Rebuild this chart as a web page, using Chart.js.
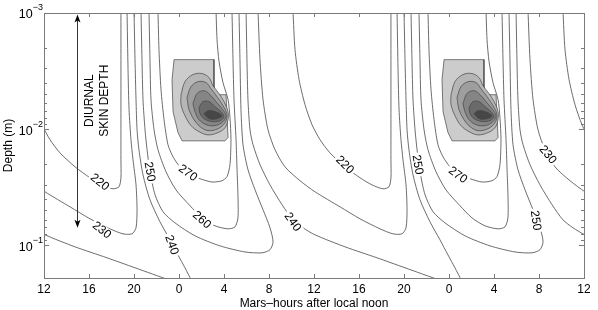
<!DOCTYPE html>
<html>
<head>
<meta charset="utf-8">
<script src="https://cdn.jsdelivr.net/npm/chart.js@4.4.1/dist/chart.umd.min.js"></script>
<style>
  html, body { margin: 0; padding: 0; background: #fff; }
  #wrap { width: 598px; height: 310px; }
</style>
</head>
<body>
<div id="wrap"><canvas id="myChart" width="598" height="310"></canvas></div>
<script>
// x = Mars-hours after local noon (one day runs -12 .. 36), y = depth in metres
const HOUR_TICKS = [-12, -8, -4, 0, 4, 8, 12, 16, 20, 24, 28, 32, 36];
const DEPTH_LABELS = [0.001, 0.01, 0.1];
const DEPTH_MIN = 0.001;
const DEPTH_MAX = 0.191;

// isotherms (K) for one day, [hour, depth]; the field repeats every 24 h
const iso270 = [[-1.87,0.00095],[-1.78,0.00206],[-1.6,0.00456],[-1.33,0.00828],[-0.98,0.0136],[-0.53,0.0173],[0.09,0.0211],[0.98,0.0247],[1.87,0.0267],[2.93,0.0285],[3.82,0.0278],[4.27,0.0256],[4.53,0.0202],[4.62,0.0123],[4.53,0.00796],[4.36,0.00557],[3.91,0.00397],[3.56,0.00262],[3.38,0.00169],[3.29,0.00095]];
const iso260 = [[-2.67,0.00095],[-2.58,0.00252],[-2.49,0.00557],[-2.22,0.0101],[-1.87,0.015],[-1.16,0.0232],[-0.27,0.0333],[0.98,0.0456],[2.04,0.058],[3.2,0.0679],[4.36,0.0721],[4.98,0.0693],[5.24,0.058],[5.24,0.0367],[5.16,0.0223],[5.07,0.0123],[4.89,0.00557],[4.8,0.00252],[4.71,0.00095]];
const iso250 = [[-3.38,0.00095],[-3.29,0.00252],[-3.2,0.00557],[-3.02,0.0101],[-2.84,0.015],[-2.58,0.0232],[-2.13,0.0367],[-1.42,0.0514],[-0.36,0.064],[1.42,0.0828],[3.64,0.101],[5.87,0.114],[7.38,0.116],[8.09,0.109],[8.36,0.0933],[8.09,0.0706],[7.47,0.0494],[6.76,0.0333],[6.13,0.0223],[5.69,0.0136],[5.51,0.00679],[5.42,0.00252],[5.33,0.00095]];
const iso240rise = [[-4.0,0.00095],[-3.91,0.00252],[-3.82,0.00557],[-3.73,0.0101],[-3.56,0.015],[-3.2,0.0247],[-2.58,0.0405],[-1.69,0.0627],[-0.8,0.0897],[-0.09,0.121],[0.53,0.156],[1.1,0.2]];
const iso240fall = [[5.96,0.00095],[6.04,0.00252],[6.13,0.00557],[6.31,0.0101],[6.58,0.0136],[7.2,0.0202],[8.09,0.0302],[9.16,0.0447],[10.13,0.0603],[11.02,0.0706],[12.09,0.0812],[14.76,0.103],[17.6,0.128],[20.09,0.156],[23.2,0.2]];
const iso230 = [[7.02,0.00095],[7.2,0.00252],[7.47,0.00557],[7.91,0.0101],[8.53,0.015],[9.42,0.0211],[10.76,0.0278],[12.09,0.0346],[14.31,0.0466],[16.09,0.0591],[17.87,0.0721],[19.02,0.0796],[19.82,0.0796],[20.18,0.0706],[20.27,0.0494],[20.18,0.0302],[19.91,0.0183],[19.73,0.0123],[19.56,0.00679],[19.47,0.00307],[19.38,0.00095]];
const iso220 = [[10.13,0.00095],[10.31,0.00206],[10.67,0.00374],[11.2,0.00615],[11.82,0.00914],[12.53,0.0123],[13.42,0.016],[14.76,0.0211],[16.09,0.0262],[17.16,0.0302],[18.13,0.0326],[18.67,0.0313],[18.84,0.0262],[18.84,0.0183],[18.84,0.00828],[18.84,0.00252],[18.84,0.00095]];

// shaded patch just after noon, outer polygon first then the nested rings
const blobOuter = [[-0.44,0.00252],[3.11,0.00252],[3.11,0.00505],[4.18,0.00505],[4.36,0.0118],[4.09,0.0126],[0.27,0.0126],[-0.09,0.0107],[-0.53,0.00706],[-0.62,0.00374]];
const blobRing1 = [[0.18,0.00505],[0.53,0.0039],[1.24,0.00339],[2.04,0.00332],[2.67,0.0036],[3.02,0.00422],[3.56,0.00494],[4.0,0.00579],[4.36,0.00706],[4.36,0.00828],[4.09,0.00971],[3.47,0.0107],[2.58,0.0112],[1.78,0.0105],[1.07,0.00933],[0.53,0.00765],[0.18,0.00615]];
const blobRing2 = [[0.71,0.00535],[1.07,0.0043],[1.69,0.0039],[2.4,0.00397],[2.84,0.00448],[3.38,0.00525],[3.91,0.00627],[4.27,0.0075],[4.09,0.00879],[3.47,0.0099],[2.58,0.0103],[1.87,0.00951],[1.33,0.00828],[0.89,0.00679]];
const blobRing3 = [[1.24,0.00603],[1.6,0.00494],[2.22,0.00466],[2.76,0.00505],[3.29,0.00579],[3.82,0.00666],[4.18,0.00765],[3.91,0.00861],[3.2,0.00933],[2.4,0.00914],[1.78,0.00828],[1.42,0.00706]];
const blobRing4 = [[1.78,0.00653],[2.13,0.00579],[2.67,0.00579],[3.2,0.0064],[3.73,0.00706],[4.0,0.0078],[3.64,0.00845],[2.93,0.00861],[2.22,0.00812],[1.87,0.00735]];
const blobRing5 = [[2.22,0.00735],[2.58,0.00693],[3.2,0.00706],[3.82,0.00765],[3.38,0.00812],[2.67,0.00812]];

// contour label text and where it sits: [text, hour, depth, angle]
const CONTOUR_LABELS = [
    ['220', -7.02, 0.0285, 38],
    ['230', -6.84, 0.0735, 38],
    ['250', -2.58, 0.0232, 80],
    ['270', 0.8, 0.0237, 36],
    ['260', 2.04, 0.0600, 42],
    ['240', -0.62, 0.0991, 70],
    ['240', 10.13, 0.0627, 55],
    ['220', 14.76, 0.0202, 45],
    ['250', 21.24, 0.0202, 80],
    ['270', 24.8, 0.0247, 36],
    ['250', 31.73, 0.0610, 82],
    ['230', 32.8, 0.0165, 50]
];

const ARROW_HOUR = -9.07;
const ARROW_TOP = 0.00103;
const ARROW_BOTTOM = 0.0706;

const FONT = "'Liberation Sans', Arial, Helvetica, sans-serif";
const LINE_COLOR = '#484848';
const FRAME_COLOR = '#7a7a7a';
const BLOB_SHADES = ['#cccccc', '#b6b6b6', '#9e9e9e', '#858585', '#6a6a6a', '#474747'];

function shifted(points, dh) {
    return points.map(p => ({x: p[0] + dh, y: p[1]}));
}

const datasets = [];

[blobOuter, blobRing1, blobRing2, blobRing3, blobRing4, blobRing5].forEach((ring, i) => {
    [0, 24].forEach(dh => {
        datasets.push({
            data: shifted(ring.concat([ring[0]]), dh),
            showLine: true,
            pointRadius: 0,
            borderColor: '#454545',
            borderWidth: 0.7,
            backgroundColor: BLOB_SHADES[i],
            fill: 'shape',
            tension: i === 0 ? 0 : 0.35,
            order: 20 - i
        });
    });
});

[iso270, iso260, iso250, iso240rise, iso240fall, iso230, iso220].forEach(line => {
    [-24, 0, 24].forEach(dh => {
        datasets.push({
            data: shifted(line, dh),
            showLine: true,
            pointRadius: 0,
            borderColor: LINE_COLOR,
            borderWidth: 0.8,
            tension: 0.25,
            fill: false,
            order: 0
        });
    });
});

function hourLabel(h) {
    return String(((h % 24) + 24) % 24);
}

const framePlugin = {
    id: 'frame',
    afterDatasetsDraw(chart) {
        const {ctx, scales: {x, y}} = chart;
        ctx.save();
        ctx.font = '12px ' + FONT;
        ctx.textAlign = 'center';
        ctx.textBaseline = 'middle';
        CONTOUR_LABELS.forEach(([text, h, d, ang]) => {
            const px = x.getPixelForValue(h);
            const py = y.getPixelForValue(d);
            const w = ctx.measureText(text).width;
            ctx.save();
            ctx.translate(px, py);
            ctx.rotate(ang * Math.PI / 180);
            ctx.fillStyle = '#fff';
            ctx.fillRect(-w / 2 - 2, -5, w + 4, 10);
            ctx.fillStyle = '#000';
            ctx.fillText(text, 0, 0.5);
            ctx.restore();
        });
        ctx.restore();
    },
    afterDraw(chart) {
        const {ctx, chartArea: a, scales: {x, y}} = chart;
        ctx.save();

        // frame
        ctx.strokeStyle = FRAME_COLOR;
        ctx.lineWidth = 1;
        ctx.strokeRect(Math.round(a.left) + 0.5, Math.round(a.top) + 0.5,
            Math.round(a.right - a.left), Math.round(a.bottom - a.top));

        // inward ticks
        ctx.beginPath();
        HOUR_TICKS.forEach(h => {
            if (h <= x.min || h >= x.max) return;
            const px = Math.round(x.getPixelForValue(h)) + 0.5;
            ctx.moveTo(px, a.bottom); ctx.lineTo(px, a.bottom - 4);
            ctx.moveTo(px, a.top); ctx.lineTo(px, a.top + 4);
        });
        [-3, -2, -1].forEach(dec => {
            for (let m = 1; m <= 9; m++) {
                const v = m * Math.pow(10, dec);
                if (v <= DEPTH_MIN * 1.0001 || v > DEPTH_MAX) continue;
                const py = Math.round(y.getPixelForValue(v)) + 0.5;
                const len = m === 1 ? 5 : 3;
                ctx.moveTo(a.left, py); ctx.lineTo(a.left + len, py);
                ctx.moveTo(a.right, py); ctx.lineTo(a.right - len, py);
            }
        });
        ctx.stroke();

        // y labels as 10 with a raised exponent
        ctx.fillStyle = '#000';
        ctx.textBaseline = 'middle';
        ctx.textAlign = 'right';
        DEPTH_LABELS.forEach(v => {
            const py = y.getPixelForValue(v);
            const sup = '\u2212' + Math.round(-Math.log10(v));
            ctx.font = '9px ' + FONT;
            const sw = ctx.measureText(sup).width;
            ctx.fillText(sup, a.left - 1, py - 5);
            ctx.font = '12.5px ' + FONT;
            ctx.fillText('10', a.left - 1 - sw, py + 2);
        });

        // skin depth arrow
        const ax = Math.round(x.getPixelForValue(ARROW_HOUR)) + 0.5;
        const y1 = y.getPixelForValue(ARROW_TOP);
        const y2 = y.getPixelForValue(ARROW_BOTTOM);
        ctx.strokeStyle = '#333';
        ctx.beginPath();
        ctx.moveTo(ax, y1 + 5); ctx.lineTo(ax, y2 - 5);
        ctx.stroke();
        ctx.fillStyle = '#000';
        ctx.beginPath();
        ctx.moveTo(ax, y1); ctx.lineTo(ax - 3, y1 + 8); ctx.lineTo(ax, y1 + 6); ctx.lineTo(ax + 3, y1 + 8);
        ctx.closePath(); ctx.fill();
        ctx.beginPath();
        ctx.moveTo(ax, y2); ctx.lineTo(ax - 3, y2 - 8); ctx.lineTo(ax, y2 - 6); ctx.lineTo(ax + 3, y2 - 8);
        ctx.closePath(); ctx.fill();

        // annotation beside the arrow
        ctx.font = '12px ' + FONT;
        ctx.textAlign = 'center';
        const ty = y.getPixelForValue(0.00568);
        [['DIURNAL', -7.91], ['SKIN DEPTH', -6.62]].forEach(([t, h]) => {
            ctx.save();
            ctx.translate(x.getPixelForValue(h), ty);
            ctx.rotate(-Math.PI / 2);
            ctx.fillText(t, 0, 0);
            ctx.restore();
        });

        ctx.restore();
    }
};

Chart.defaults.font.family = FONT;
Chart.defaults.font.size = 12;
Chart.defaults.color = '#000';

const myChart = new Chart(document.getElementById('myChart'), {
    type: 'scatter',
    data: {datasets: datasets},
    options: {
        responsive: false,
        animation: false,
        devicePixelRatio: 1,
        layout: {padding: {top: 13, right: 14, left: 0, bottom: 0}},
        plugins: {legend: {display: false}, tooltip: {enabled: false}},
        scales: {
            x: {
                type: 'linear',
                min: -12,
                max: 36,
                grid: {display: false, drawTicks: false},
                border: {display: false},
                afterBuildTicks: scale => { scale.ticks = HOUR_TICKS.map(v => ({value: v})); },
                ticks: {padding: 4, maxRotation: 0, autoSkip: false, callback: v => hourLabel(v)},
                title: {display: true, text: 'Mars\u2013hours after local noon', padding: {top: 0, bottom: -1}},
                afterFit: scale => { scale.height = 32; }
            },
            y: {
                type: 'logarithmic',
                min: DEPTH_MIN,
                max: DEPTH_MAX,
                reverse: true,
                grid: {display: false, drawTicks: false},
                border: {display: false},
                ticks: {display: false},
                title: {display: true, text: 'Depth (m)', padding: {top: 1, bottom: 0}},
                afterFit: scale => { scale.width = 44; }
            }
        }
    },
    plugins: [framePlugin]
});
</script>
</body>
</html>
